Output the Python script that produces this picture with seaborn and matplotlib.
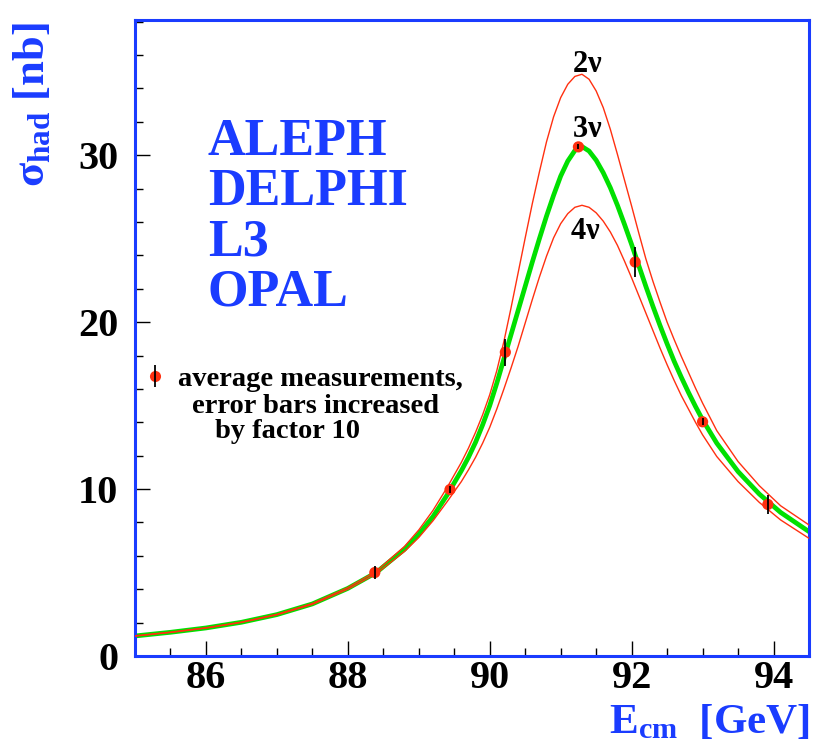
import numpy as np
import pandas as pd
import matplotlib
matplotlib.use("Agg")
import matplotlib.pyplot as plt
from matplotlib.ticker import MultipleLocator
from matplotlib.lines import Line2D
from matplotlib.legend_handler import HandlerTuple
import seaborn as sns

# ---------------- data ----------------
energy_grid = [85.0, 85.5, 86.0, 86.5, 87.0, 87.5, 88.0, 88.4, 88.8, 89.0, 89.2, 89.4, 89.6,
               89.7, 89.8, 89.9, 90.0, 90.1, 90.2, 90.3, 90.4, 90.5, 90.6, 90.7, 90.8,
               90.9, 91.0, 91.1, 91.2, 91.3, 91.4, 91.5, 91.6, 91.7, 91.8, 91.9, 92.0,
               92.1, 92.2, 92.3, 92.4, 92.5, 92.6, 92.7, 92.8, 92.9, 93.0,
               93.2, 93.5, 93.8, 94.1, 94.5]

sigma_2nu = [1.21, 1.43, 1.69, 2.03, 2.50, 3.15, 4.10, 5.08, 6.57, 7.55, 8.72, 10.10, 11.60,
             12.45, 13.40, 14.45, 15.65, 17.10, 18.85, 20.85, 22.95, 25.05, 27.10, 29.00, 30.80,
             32.30, 33.45, 34.25, 34.72, 34.85, 34.55, 33.85, 32.85, 31.55, 30.05, 28.50, 26.95,
             25.35, 23.80, 22.45, 21.20, 20.00, 18.95, 17.95, 17.00, 16.05, 15.15,
             13.50, 11.65, 10.20, 9.00, 7.85]

sigma_3nu = [1.20, 1.42, 1.68, 2.02, 2.48, 3.12, 4.05, 5.00, 6.40, 7.30, 8.35, 9.65, 11.10,
             11.90, 12.80, 13.85, 15.00, 16.35, 17.80, 19.25, 20.70, 22.15, 23.60, 25.00, 26.35,
             27.60, 28.75, 29.65, 30.28, 30.52, 30.25, 29.70, 28.95, 28.05, 27.00, 25.85, 24.65,
             23.40, 22.15, 20.95, 19.80, 18.70, 17.65, 16.70, 15.80, 14.95, 14.15,
             12.75, 11.05, 9.70, 8.60, 7.45]

sigma_4nu = [1.19, 1.41, 1.67, 2.01, 2.46, 3.09, 4.00, 4.93, 6.27, 7.10, 8.10, 9.25, 10.45,
             11.15, 11.90, 12.75, 13.70, 14.80, 16.00, 17.25, 18.55, 19.95, 21.35, 22.70, 23.95,
             25.05, 25.90, 26.50, 26.88, 27.00, 26.88, 26.55, 26.05, 25.40, 24.60, 23.65, 22.65,
             21.60, 20.55, 19.50, 18.45, 17.45, 16.50, 15.60, 14.80, 14.00, 13.25,
             11.95, 10.45, 9.20, 8.15, 7.05]

meas_energy = [88.38, 89.44, 90.22, 91.25, 92.05, 93.00, 93.92]
meas_sigma = [5.00, 9.97, 18.20, 30.50, 23.60, 14.03, 9.08]
meas_err_x10 = [0.40, 0.20, 0.80, 0.15, 0.90, 0.20, 0.55]

curve_names = ["2ν", "3ν", "4ν"]
curve_label_text = [r"2$\mathrm{ν}$", r"3$\mathrm{ν}$", r"4$\mathrm{ν}$"]
curve_label_pos = [(91.38, 35.0), (91.38, 31.1), (91.34, 25.0)]
experiments = ["ALEPH", "DELPHI", "L3", "OPAL"]
legend_lines = ["average measurements,", "error bars increased", "by factor 10"]

x_major = [86, 88, 90, 92, 94]
y_major = [0, 10, 20, 30]

# ---------------- style ----------------
sns.set_style("ticks")
plt.rcParams["font.family"] = ["Liberation Serif", "DejaVu Serif"]
plt.rcParams["font.weight"] = "bold"
plt.rcParams["mathtext.fontset"] = "custom"
plt.rcParams["mathtext.rm"] = "Liberation Serif"
plt.rcParams["mathtext.it"] = "Liberation Serif:italic"
plt.rcParams["mathtext.bf"] = "Liberation Serif:bold"

BLUE = "#1a3cff"
RED = "#ff3010"
GREEN = "#00e000"

W, H = 816, 749
fig = plt.figure(figsize=(W / 100, H / 100), dpi=100)
ax = fig.add_axes([135 / W, 1 - 656 / H, 674 / W, 636 / H])

n = len(energy_grid)
df = pd.DataFrame({
    "E": energy_grid * 3,
    "sigma": sigma_2nu + sigma_3nu + sigma_4nu,
    "curve": [curve_names[0]] * n + [curve_names[1]] * n + [curve_names[2]] * n,
})

sns.lineplot(data=df[df["curve"] == "3ν"], x="E", y="sigma", color=GREEN,
             linewidth=3.4, estimator=None, sort=False, ax=ax, zorder=2, legend=False)
for name in ["2ν", "4ν"]:
    sns.lineplot(data=df[df["curve"] == name], x="E", y="sigma", color=RED,
                 linewidth=1.0, estimator=None, sort=False, ax=ax, zorder=3, legend=False)

sns.scatterplot(x=meas_energy, y=meas_sigma, color=RED, s=65, edgecolor="none",
                ax=ax, zorder=4, legend=False)
ax.errorbar(meas_energy, meas_sigma, yerr=meas_err_x10, fmt="none",
            ecolor="black", elinewidth=1.3, capsize=0, zorder=5)

# axes
ax.set_xlim(85.0, 94.5)
ax.set_ylim(0, 38.1)
ax.set_xticks(x_major)
ax.set_yticks(y_major)
ax.xaxis.set_minor_locator(MultipleLocator(0.5))
ax.yaxis.set_minor_locator(MultipleLocator(2))
ax.tick_params(axis="both", which="major", direction="in", length=11, width=1.0,
               color="black", labelsize=29, labelcolor="black")
ax.tick_params(axis="both", which="minor", direction="in", length=6, width=1.0,
               color="black")
ax.tick_params(axis="y", which="major", pad=12)
ax.tick_params(axis="x", which="major", pad=3)
for lab in ax.get_xticklabels() + ax.get_yticklabels():
    lab.set_fontweight("bold")
for sp in ax.spines.values():
    sp.set_color(BLUE)
    sp.set_linewidth(2.2)
ax.set_xlabel("")
ax.set_ylabel("")

# curve labels
for txt, (xp, yp) in zip(curve_label_text, curve_label_pos):
    ax.text(xp, yp, txt, ha="center", va="baseline", fontsize=22,
            fontweight="bold", color="black")

# experiments
for i, exp in enumerate(experiments):
    fig.text(208 / W, 1 - (155 + 50 * i) / H, exp, ha="left", va="baseline",
             fontsize=37.5, fontweight="bold", color=BLUE)

# legend (first line) + continuation lines
h_marker = Line2D([], [], marker="o", color=RED, ls="none", ms=8, mec="none")
h_bar = Line2D([], [], marker="|", color="black", ls="none", ms=16, mew=1.3)
leg = ax.legend([(h_marker, h_bar)], [legend_lines[0]],
                handler_map={tuple: HandlerTuple(ndivide=1)},
                loc="center left", bbox_to_anchor=((143.6 - 135) / 674, (656 - 379) / 636),
                frameon=False, borderpad=0, borderaxespad=0, handlelength=0.8,
                handletextpad=0.4, labelcolor="black",
                prop={"family": "Liberation Serif", "weight": "bold", "size": 20.5})
fig.text(192 / W, 1 - 413 / H, legend_lines[1], ha="left", va="baseline",
         fontsize=20.5, fontweight="bold", color="black")
fig.text(215 / W, 1 - 438 / H, legend_lines[2], ha="left", va="baseline",
         fontsize=20.5, fontweight="bold", color="black")

# axis titles
fig.text(810 / W, 1 - 733 / H, r"E$_{\mathbf{cm}}$  [GeV]", ha="right", va="baseline",
         fontsize=31, fontweight="bold", color=BLUE)
fig.text(33 / W, 1 - 22 / H, r"$\mathrm{σ}_{\mathbf{had}}$ [nb]", rotation=90,
         ha="center", va="top", fontsize=32, fontweight="bold", color=BLUE)

fig.savefig("out.png", dpi=100)
